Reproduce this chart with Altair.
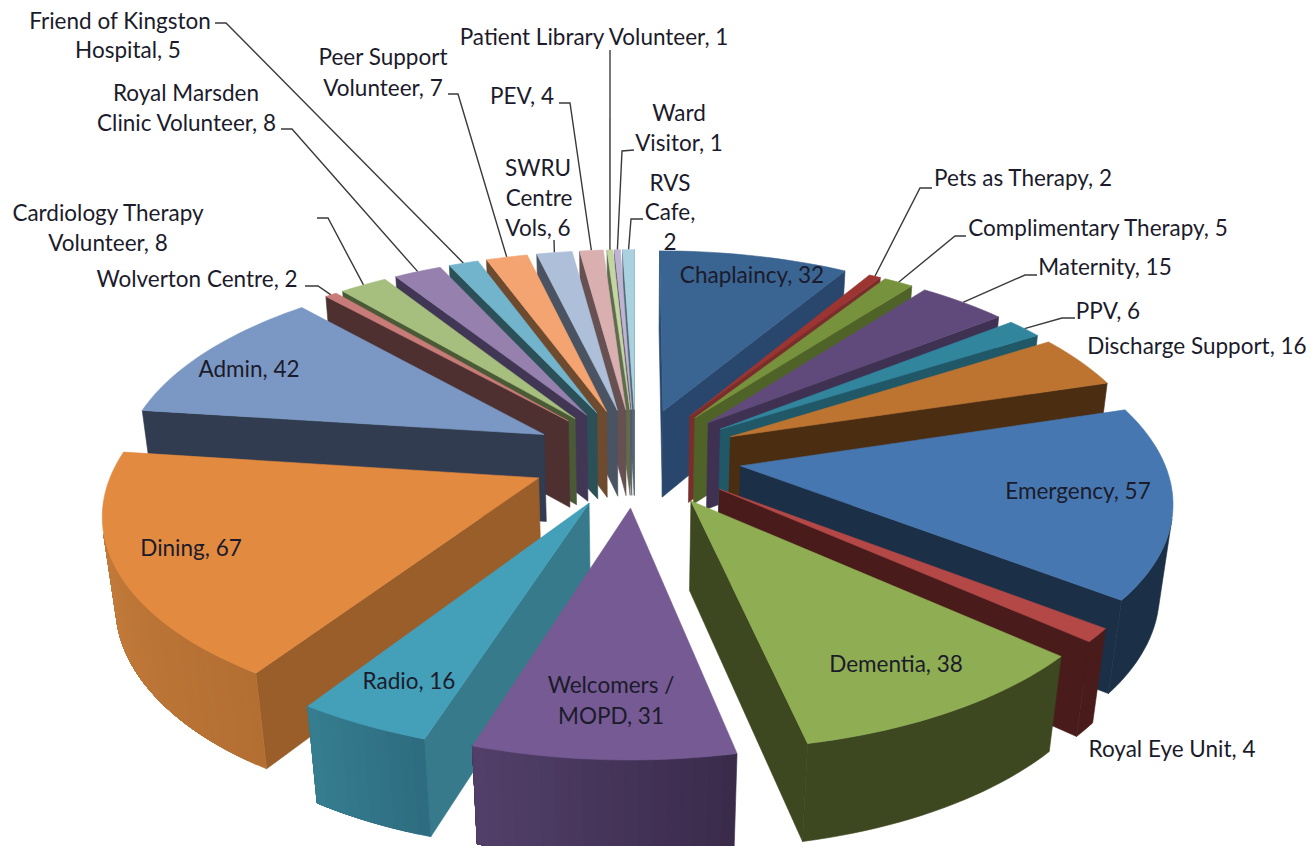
import math
import altair as alt
import pandas as pd

CATEGORIES = ["Chaplaincy", "Pets as Therapy", "Complimentary Therapy", "Maternity", "PPV",
              "Discharge Support", "Emergency", "Royal Eye Unit", "Dementia", "Welcomers / MOPD",
              "Radio", "Dining", "Admin", "Wolverton Centre", "Cardiology Therapy Volunteer",
              "Royal Marsden Clinic Volunteer", "Friend of Kingston Hospital",
              "Peer Support Volunteer", "SWRU Centre Vols", "PEV", "Patient Library Volunteer",
              "Ward Visitor", "RVS Cafe"]
VALUES = [32, 2, 5, 15, 6, 16, 57, 4, 38, 31, 16, 67, 42, 2, 8, 8, 5, 7, 6, 4, 1, 1, 2]

TOP = ["#3A6491", "#9C3531", "#76923C", "#604A7B", "#31859C", "#BD7430", "#4777B0", "#B34846",
       "#8FAD52", "#765A93", "#449FB8", "#E28A40", "#7B98C4", "#C87B78", "#A6BF7E", "#9680AE",
       "#72B4CC", "#F4A470", "#AEBFD9", "#D9AFB0", "#C3D5A1", "#BFB4D3", "#A9D1DF"]
SIDE = ["#29476D", "#7A2E2C", "#4F6228", "#3F3151", "#205867", "#4B2D12", "#1B3047", "#4A1B1B",
        "#3D4720", "#4B3B60", "#367A8C", "#9A5E2B", "#313C50", "#4E3031", "#4A5A36", "#413654",
        "#2C5058", "#6E4A2E", "#4A5362", "#665051", "#5E6B4E", "#5A5268", "#4F6A73"]
RIM_A = dict(zip([9, 10, 11], ["#3A2A4A", "#2E6C80", "#B36E32"]))
RIM_B = dict(zip([9, 10, 11], ["#52406A", "#367E90", "#C27B3A"]))

# Camera of the 3-D view
CX, CY, SX, SY, DZ, PERSP, PERSP_Z, EXPLODE = 636, 457, 422, 197, 90, 0.15, 0.025, 0.25


def project(radius, angle, mid, z):
    a, m = math.radians(angle), math.radians(mid)
    wx = radius * math.sin(a) + EXPLODE * math.sin(m)
    wy = radius * math.cos(a) + EXPLODE * math.cos(m)
    d = 1 + PERSP * wy + PERSP_Z * z
    return [CX + SX * wx / d, CY + (-SY * wy + DZ * z) / d]


def area(p):
    return sum(p[i][0] * p[(i + 1) % len(p)][1] - p[(i + 1) % len(p)][0] * p[i][1] for i in range(len(p)))


def feat(points, fill):
    return {"type": "Feature", "properties": {"fill": fill},
            "geometry": {"type": "Polygon", "coordinates": [points + [points[0]]]}}


def lerp(c1, c2, t):
    a = [int(c1[i:i + 2], 16) for i in (1, 3, 5)]
    b = [int(c2[i:i + 2], 16) for i in (1, 3, 5)]
    return "#%02x%02x%02x" % tuple(round(x + (y - x) * t) for x, y in zip(a, b))


total = sum(VALUES)
spans, run = [], 0
for v in VALUES:
    spans.append((run / total * 360, (run + v) / total * 360))
    run += v
mids = [(s + e) / 2 for s, e in spans]
rims = [project(1, m, m, 0) for m in mids]

features = []
for i in sorted(range(len(VALUES)), key=lambda k: -math.cos(math.radians(mids[k]))):
    s, e = spans[i]
    m = mids[i]
    n = max(2, int((e - s) / 1.5))
    angs = [s + (e - s) * k / n for k in range(n + 1)]
    apex0, apex1 = project(0, 0, m, 0), project(0, 0, m, 1)
    r0 = [project(1, a, m, 0) for a in angs]
    r1 = [project(1, a, m, 1) for a in angs]
    for quad in ([apex0, r0[0], r1[0], apex1], [r0[-1], apex0, apex1, r1[-1]]):
        if area(quad) < 0:
            features.append(feat(quad, SIDE[i]))
    vis = [k for k in range(n) if area([r0[k], r0[k + 1], r1[k + 1], r1[k]]) < 0]
    if vis:
        lo, hi = vis[0], vis[-1] + 1
        # each band runs to the end of the wall, so the next band overpaints it without a seam
        starts = range(lo, hi) if i in RIM_A else [lo]
        for k in starts:
            col = lerp(RIM_A[i], RIM_B[i], (k - lo + 0.5) / (hi - lo)) if i in RIM_A else SIDE[i]
            features.append(feat(r0[k:hi + 1] + r1[k:hi + 1][::-1], col))
    features.append(feat([apex0] + r0, TOP[i]))

# label layout: text line, centre x, centre y
LABEL_LINES = [
    ("Friend of Kingston", 120, 21), ("Hospital, 5", 128, 50),
    ("Royal Marsden", 186, 93), ("Clinic Volunteer, 8", 186.5, 123),
    ("Peer Support", 383, 57), ("Volunteer, 7", 383, 88),
    ("Patient Library Volunteer, 1", 594, 37),
    ("PEV, 4", 522, 96),
    ("Ward", 679, 113), ("Visitor, 1", 679, 143),
    ("SWRU", 538, 168), ("Centre", 539, 198), ("Vols, 6", 538, 228),
    ("RVS", 670, 183), ("Cafe,", 670, 212), ("2", 670, 242),
    ("Pets as Therapy, 2", 1023, 178),
    ("Complimentary Therapy, 5", 1098, 228),
    ("Maternity, 15", 1105, 267),
    ("PPV, 6", 1108, 311),
    ("Discharge Support, 16", 1197, 346),
    ("Royal Eye Unit, 4", 1172, 749),
    ("Cardiology Therapy", 108, 213), ("Volunteer, 8", 108, 243),
    ("Wolverton Centre, 2", 197, 279),
    ("Chaplaincy, 32", 752, 275),
    ("Emergency, 57", 1078, 491),
    ("Dementia, 38", 896, 664),
    ("Welcomers /", 611, 685), ("MOPD, 31", 611, 716),
    ("Radio, 16", 409, 681),
    ("Dining, 67", 191, 548),
    ("Admin, 42", 249, 369),
]
LABEL_ROWS = [(t, x, y + 1) for t, x, y in LABEL_LINES]
# leader layout: slice index -> line start and elbow near the label
LEADERS = {
    16: [(215, 23), (226, 23)], 15: [(281, 129), (292, 129)], 17: [(448, 94), (458, 94)],
    20: [(610, 50)], 19: [(559, 103), (570, 103)], 21: [(634, 150), (622, 151)],
    18: [(554, 240)], 22: [(643, 219), (631, 219)], 1: [(932, 188), (920, 188)],
    2: [(966, 236), (955, 236)], 3: [(1037, 275), (1025, 275)], 4: [(1075, 318), (1062, 318)],
    14: [(317, 218), (328, 218)], 13: [(305, 286), (318, 286)],
}
lines = [{"type": "Feature", "properties": {},
          "geometry": {"type": "LineString", "coordinates": [list(p) for p in pts] + [rims[i]]}}
         for i, pts in LEADERS.items()]

PROJ = dict(type="identity", scale=1, translate=[-8, -8])

faces = alt.Chart(alt.Data(values=features)).mark_geoshape(strokeWidth=0.6).encode(
    color=alt.Color("properties.fill:N", scale=None, legend=None),
    stroke=alt.Stroke("properties.fill:N", scale=None, legend=None),
).project(**PROJ)

leaders = alt.Chart(alt.Data(values=lines)).mark_geoshape(
    filled=False, stroke="#3a3a3a", strokeWidth=1.4
).project(**PROJ)

labels = alt.Chart(pd.DataFrame(LABEL_ROWS, columns=["t", "x", "y"])).mark_text(
    font="Lato", fontSize=22.5, color="#1b1b2b", align="center", baseline="middle"
).encode(longitude="x:Q", latitude="y:Q", text="t:N").project(**PROJ)

chart = alt.layer(leaders, faces, labels).properties(
    width=1300, height=838, padding=0, background="white"
).configure_view(stroke=None)

chart.save("out.html", embed_options={"renderer": "svg", "actions": False})
